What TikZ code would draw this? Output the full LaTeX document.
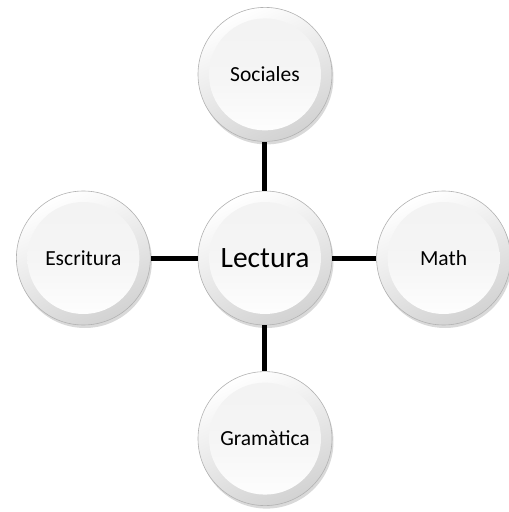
\documentclass[tikz,border=0pt]{standalone}
\usepackage{fontspec}
\setmainfont{Carlito}
\usetikzlibrary{positioning,shadows}

\begin{document}
\begin{tikzpicture}[
	node distance=46pt,
	bubble/.style={circle, draw=gray!60, line width=0.6pt, minimum size=134pt,
		top color=white, bottom color=gray!35, shading angle=25,
		drop shadow={shadow xshift=1.5pt, shadow yshift=-3pt, opacity=0.3},
		path picture={\shade[top color=gray!10, bottom color=white, middle color=gray!8]
			(path picture bounding box.center) circle[radius=56pt];},
		font=\fontsize{21.5}{25}\selectfont},
	hub/.style={bubble, font=\fontsize{29.5}{34}\selectfont},
	link/.style={line width=5pt, black}
	]
	\useasboundingbox (-265pt,258pt) rectangle (244pt,-254pt);
	\node[hub] (lec) {Lectura};
	\node[bubble, above=49pt of lec] (soc) {Sociales};
	\node[bubble, left=47pt of lec]  (esc) {Escritura};
	\node[bubble, right=44pt of lec] (mat) {Math};
	\node[bubble, below=46pt of lec] (gra) {Gramàtica};
	\draw[link] (lec) -- (soc);
	\draw[link] (lec) -- (esc);
	\draw[link] (lec) -- (mat);
	\draw[link] (lec) -- (gra);
\end{tikzpicture}
\end{document}
